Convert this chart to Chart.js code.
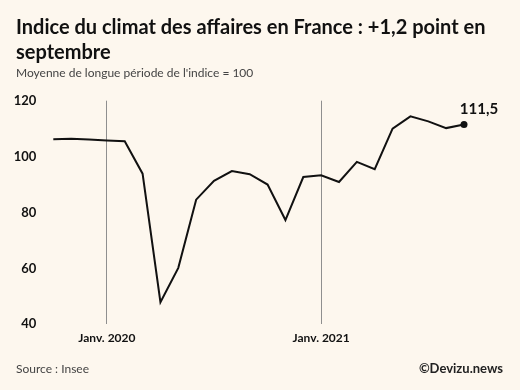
<!DOCTYPE html>
<html>
<head>
<meta charset="utf-8">
<script src="https://cdn.jsdelivr.net/npm/chart.js@4"></script>
<style>
  html, body { margin:0; padding:0; background:#FDF7EE; }
  #wrap { width:520px; height:390px; position:relative; }
</style>
</head>
<body>
<div id="wrap"><canvas id="c" width="520" height="390"></canvas></div>
<script>
const months = ["Oct 2019","Nov 2019","Déc 2019","Janv. 2020","Févr. 2020","Mars 2020","Avr. 2020","Mai 2020","Juin 2020","Juil. 2020","Août 2020","Sept. 2020","Oct. 2020","Nov. 2020","Déc. 2020","Janv. 2021","Févr. 2021","Mars 2021","Avr. 2021","Mai 2021","Juin 2021","Juil. 2021","Août 2021","Sept. 2021"];
const climat = [106.2,106.4,106.1,105.8,105.5,93.9,47.9,60.2,84.6,91.3,94.8,93.7,90.0,77.3,92.7,93.3,90.9,98.1,95.5,110.0,114.4,112.6,110.2,111.5];
const markedMonths = ["Janv. 2020","Janv. 2021"];
const yTicks = [40,60,80,100,120];
const titleLines = ["Indice du climat des affaires en France : +1,2 point en","septembre"];
const subtitleText = "Moyenne de longue période de l'indice = 100";
const sourceText = "Source : Insee";
const creditText = "©Devizu.news";
const lastLabel = "111,5";

const FONT = "Lato, 'Open Sans', sans-serif";

const textPlugin = {
  id: 'texts',
  afterDraw(chart) {
    const ctx = chart.ctx;
    ctx.save();
    ctx.fillStyle = '#111';
    ctx.textBaseline = 'middle';
    ctx.textAlign = 'left';
    ctx.font = "900 20px " + FONT;
    const w = ctx.measureText(titleLines[0]).width;
    if (w > 470) ctx.font = "bold 20px " + FONT;
    ctx.fillText(titleLines[0], 16, 28);
    ctx.fillText(titleLines[1], 16, 53);
    ctx.font = "12px " + FONT;
    ctx.fillStyle = '#444';
    ctx.fillText(subtitleText, 16, 73);
    ctx.fillText(sourceText, 16, 369);
    ctx.font = "bold 13px " + FONT;
    ctx.fillStyle = '#222';
    ctx.textAlign = 'right';
    ctx.fillText(creditText, 503, 369);
    // last value label
    const meta = chart.getDatasetMeta(0);
    const pt = meta.data[meta.data.length - 1];
    ctx.font = "bold 15px " + FONT;
    ctx.fillStyle = '#111';
    ctx.textAlign = 'center';
    ctx.fillText(lastLabel, pt.x + 15, pt.y - 15);
    ctx.restore();
  }
};

new Chart(document.getElementById('c'), {
  type: 'line',
  data: {
    labels: months,
    datasets: [{
      data: climat,
      borderColor: '#111',
      borderWidth: 2,
      tension: 0,
      pointRadius: climat.map((v, i) => i === climat.length - 1 ? 3.5 : 0),
      pointBackgroundColor: '#111',
      pointBorderWidth: 0,
      clip: false
    }]
  },
  options: {
    responsive: false,
    animation: false,
    layout: { padding: { left: 0, right: 56, top: 100.7, bottom: 0 } },
    plugins: { legend: { display: false }, tooltip: { enabled: false } },
    scales: {
      x: {
        type: 'category',
        offset: false,
        border: { display: false },
        grid: {
          drawTicks: false,
          lineWidth: 1,
          color: (c) => (c.tick && markedMonths.includes(months[c.index])) ? '#8f8f8f' : 'rgba(0,0,0,0)'
        },
        ticks: {
          autoSkip: false,
          maxRotation: 0,
          padding: 7,
          color: '#111',
          font: { family: FONT, weight: 'bold', size: 12 },
          callback: (v, i) => markedMonths.includes(months[i]) ? months[i] : ''
        },
        afterFit: (s) => { s.height = 390 - 324.3; }
      },
      y: {
        min: 40, max: 120,
        border: { display: false },
        grid: { display: false, drawTicks: false },
        afterBuildTicks: (s) => { s.ticks = yTicks.map(v => ({ value: v })); },
        ticks: {
          padding: 17,
          color: '#111',
          font: { family: FONT, weight: 'bold', size: 13 }
        },
        afterFit: (s) => { s.width = 53.3; }
      }
    }
  },
  plugins: [textPlugin]
});
</script>
</body>
</html>
